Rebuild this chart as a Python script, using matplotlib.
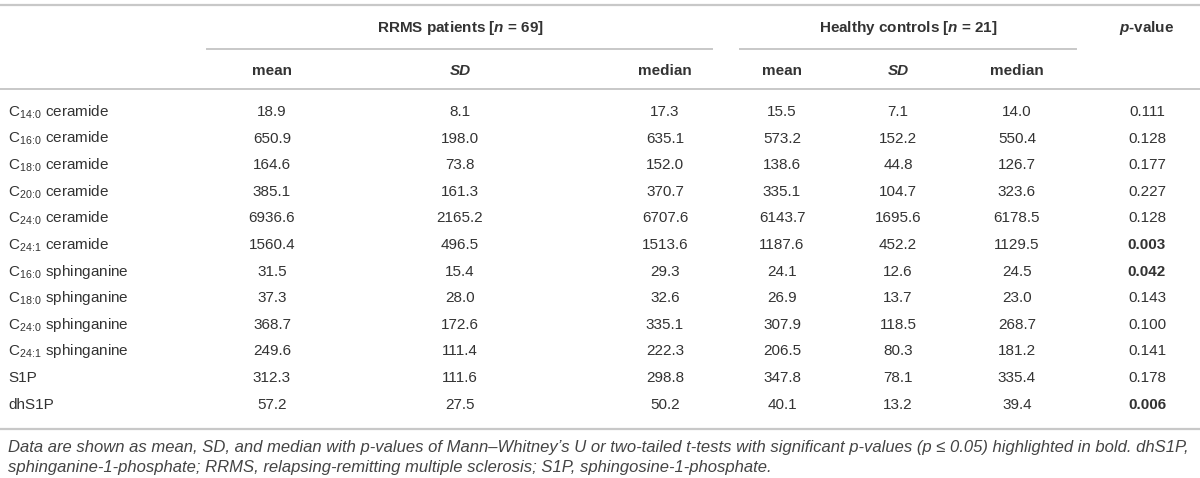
import matplotlib
matplotlib.use("Agg")
import matplotlib.pyplot as plt

plt.rcParams['font.family'] = ['Liberation Sans', 'DejaVu Sans']
plt.rcParams['mathtext.fontset'] = 'custom'
plt.rcParams['mathtext.rm'] = 'Liberation Sans'
plt.rcParams['mathtext.it'] = 'Liberation Sans:italic:bold'
plt.rcParams['mathtext.bf'] = 'Liberation Sans:bold'

# ---- data ----
compounds = ["C$_{14\\!:\\!0}$ ceramide", "C$_{16\\!:\\!0}$ ceramide", "C$_{18\\!:\\!0}$ ceramide",
             "C$_{20\\!:\\!0}$ ceramide", "C$_{24\\!:\\!0}$ ceramide", "C$_{24\\!:\\!1}$ ceramide",
             "C$_{16\\!:\\!0}$ sphinganine", "C$_{18\\!:\\!0}$ sphinganine", "C$_{24\\!:\\!0}$ sphinganine",
             "C$_{24\\!:\\!1}$ sphinganine", "S1P", "dhS1P"]
rrms_mean = [18.9, 650.9, 164.6, 385.1, 6936.6, 1560.4, 31.5, 37.3, 368.7, 249.6, 312.3, 57.2]
rrms_sd = [8.1, 198.0, 73.8, 161.3, 2165.2, 496.5, 15.4, 28.0, 172.6, 111.4, 111.6, 27.5]
rrms_median = [17.3, 635.1, 152.0, 370.7, 6707.6, 1513.6, 29.3, 32.6, 335.1, 222.3, 298.8, 50.2]
hc_mean = [15.5, 573.2, 138.6, 335.1, 6143.7, 1187.6, 24.1, 26.9, 307.9, 206.5, 347.8, 40.1]
hc_sd = [7.1, 152.2, 44.8, 104.7, 1695.6, 452.2, 12.6, 13.7, 118.5, 80.3, 78.1, 13.2]
hc_median = [14.0, 550.4, 126.7, 323.6, 6178.5, 1129.5, 24.5, 23.0, 268.7, 181.2, 335.4, 39.4]
p_values = ["0.111", "0.128", "0.177", "0.227", "0.128", "0.003",
            "0.042", "0.143", "0.100", "0.141", "0.178", "0.006"]
significant = [False, False, False, False, False, True, True, False, False, False, False, True]

group_titles = ["RRMS patients [$n$ = 69]", "Healthy controls [$n$ = 21]"]
sub_headers = ["mean", "SD", "median", "mean", "SD", "median"]
footnote = ("Data are shown as mean, SD, and median with p-values of Mann\u2013Whitney\u2019s U or two-tailed t-tests "
            "with significant p-values (p \u2264 0.05) highlighted in bold. dhS1P,\n"
            "sphinganine-1-phosphate; RRMS, relapsing-remitting multiple sclerosis; S1P, sphingosine-1-phosphate.")

W, H = 1200, 478
fig = plt.figure(figsize=(W / 100, H / 100), dpi=100)
ax = fig.add_axes([0, 0, 1, 1])
ax.set_xlim(0, W)
ax.set_ylim(H, 0)
ax.axis('off')

txt = '#333333'
line_c = '#c8c8c8'
fs = 11

col_x = [272, 460, 665, 782, 898, 1017]
p_x = 1147
row_y0 = 112
row_dy = 26.6

# horizontal rules
ax.plot([0, W], [5, 5], color=line_c, lw=1.6)
ax.plot([207, 712], [49, 49], color=line_c, lw=1.4)
ax.plot([740, 1076], [49, 49], color=line_c, lw=1.4)
ax.plot([0, W], [89, 89], color=line_c, lw=1.4)
ax.plot([0, W], [429, 429], color=line_c, lw=1.6)

# headers
ax.text(460, 28, group_titles[0], ha='center', va='center', fontsize=fs, fontweight='bold', color=txt)
ax.text(908, 28, group_titles[1], ha='center', va='center', fontsize=fs, fontweight='bold', color=txt)
ax.text(p_x, 28, "$p$-value", ha='center', va='center', fontsize=fs, fontweight='bold', color=txt)
for x, h in zip(col_x, sub_headers):
    ax.text(x, 71, h, ha='center', va='center', fontsize=fs, fontweight='bold',
            fontstyle='italic' if h == 'SD' else 'normal', color=txt)

# rows
for i, name in enumerate(compounds):
    y = row_y0 + i * row_dy
    ax.text(8, y, name, ha='left', va='center', fontsize=fs, color=txt)
    vals = [rrms_mean[i], rrms_sd[i], rrms_median[i], hc_mean[i], hc_sd[i], hc_median[i]]
    for x, v in zip(col_x, vals):
        ax.text(x, y, f"{v:.1f}", ha='center', va='center', fontsize=fs, color=txt)
    ax.text(p_x, y, p_values[i], ha='center', va='center', fontsize=fs, color=txt,
            fontweight='bold' if significant[i] else 'normal')

ax.text(8, 440, footnote, ha='left', va='top', fontsize=12, fontstyle='italic',
        color='#444444', linespacing=1.38)

fig.savefig("out.png", dpi=100)
